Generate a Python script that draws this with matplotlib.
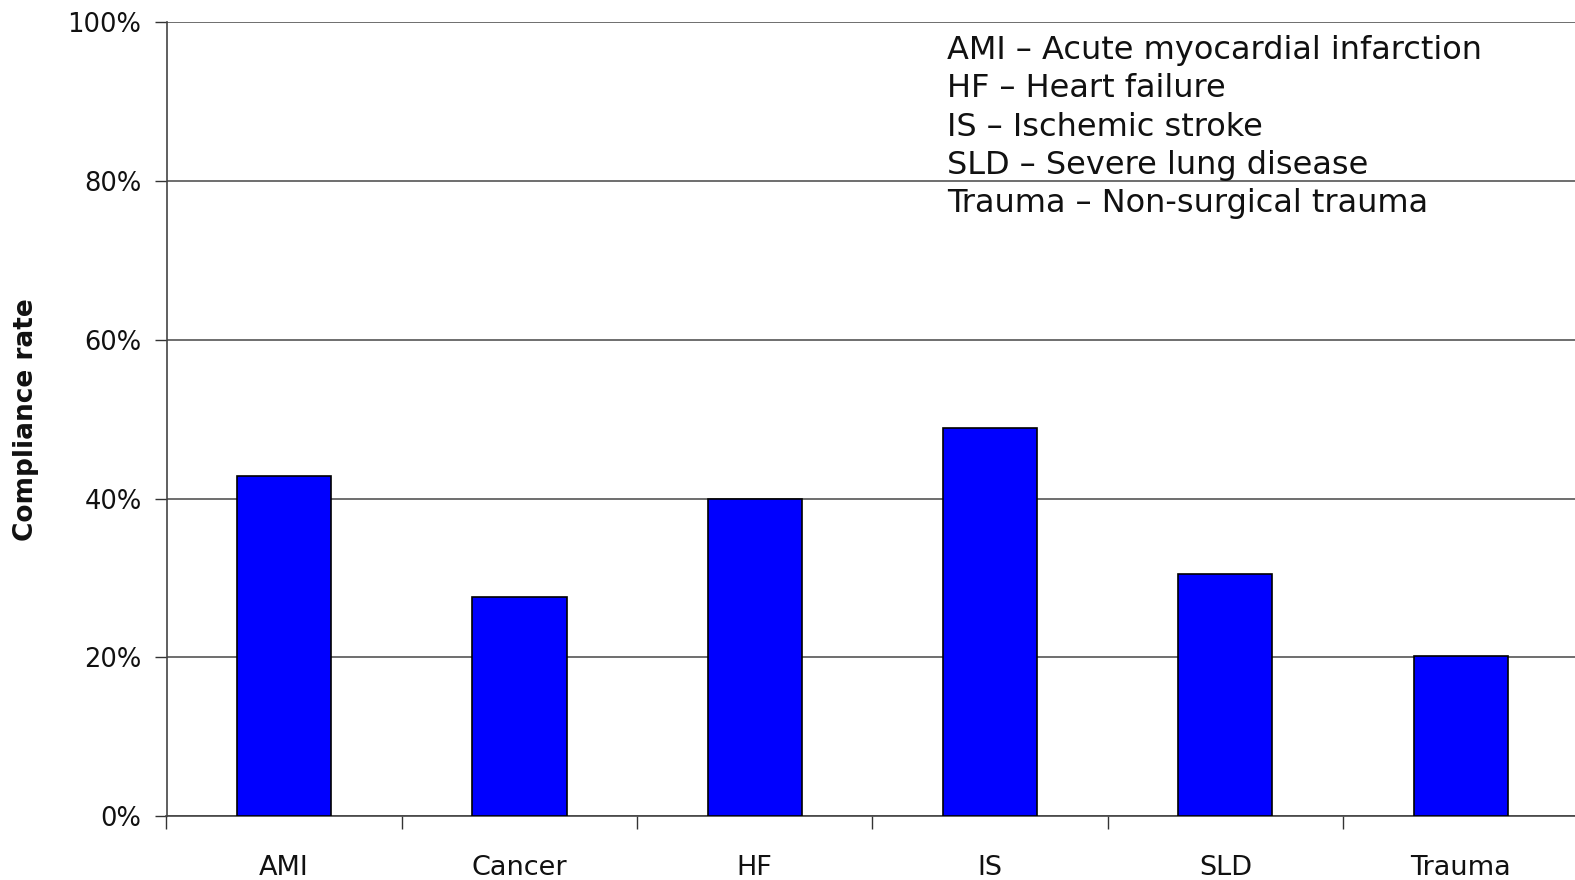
import matplotlib
matplotlib.use("Agg")
import matplotlib.pyplot as plt
from matplotlib.ticker import FixedLocator, PercentFormatter

# Compliance rate by condition
categories = ["AMI", "Cancer", "HF", "IS", "SLD", "Trauma"]
compliance = [42.9, 27.6, 39.9, 48.9, 30.5, 20.1]
y_ticks = [0, 20, 40, 60, 80, 100]
abbreviations = [
    "AMI \u2013 Acute myocardial infarction",
    "HF \u2013 Heart failure",
    "IS \u2013 Ischemic stroke",
    "SLD \u2013 Severe lung disease",
    "Trauma \u2013 Non-surgical trauma",
]

W, H = 1575, 880
fig = plt.figure(figsize=(W / 100, H / 100), dpi=100)
plt.rcParams["font.family"] = ["DejaVu Sans"]

left_px, top_px, bottom_px = 166.5, 22.3, 816.0
cat_w = 235.3
right_px = left_px + cat_w * len(categories)
ax = fig.add_axes([left_px / W, 1 - bottom_px / H,
                   (right_px - left_px) / W, (bottom_px - top_px) / H])

x = list(range(len(categories)))
ax.bar(x, compliance, width=0.4, color="#0000FF", edgecolor="black",
       linewidth=1.2, zorder=3)

ax.set_xlim(-0.5, len(categories) - 0.5)
ax.set_ylim(0, 100)
ax.yaxis.set_major_locator(FixedLocator(y_ticks))
ax.yaxis.set_major_formatter(PercentFormatter(decimals=0))
ax.grid(axis="y", color="#555555", linewidth=1.2, zorder=0)

ax.set_xticks(x)
ax.set_xticklabels(categories)
ax.set_xticks([i - 0.5 for i in range(len(categories) + 1)], minor=True)
ax.tick_params(axis="x", which="major", length=0, pad=28, labelsize=19.5,
               colors="#111111")
ax.tick_params(axis="x", which="minor", length=9, width=1, color="#333333",
               direction="out")
ax.tick_params(axis="y", length=9, width=1, color="#333333", pad=9,
               labelsize=18.5, labelcolor="#111111")

for side in ("top", "right"):
    ax.spines[side].set_visible(False)
for side in ("left", "bottom"):
    ax.spines[side].set_color("#444444")
    ax.spines[side].set_linewidth(1.2)

fig.text(26 / W, 1 - 420 / H, "Compliance rate", rotation=90,
         fontsize=19, fontweight="bold", ha="center", va="center",
         color="#111111")

line_y = [50.2, 88.4, 127.6, 165.7, 203.9]
for text, yy in zip(abbreviations, line_y):
    fig.text(947 / W, 1 - yy / H, text, fontsize=23, ha="left",
             va="center", color="#111111")

fig.savefig("out.png", dpi=100)
